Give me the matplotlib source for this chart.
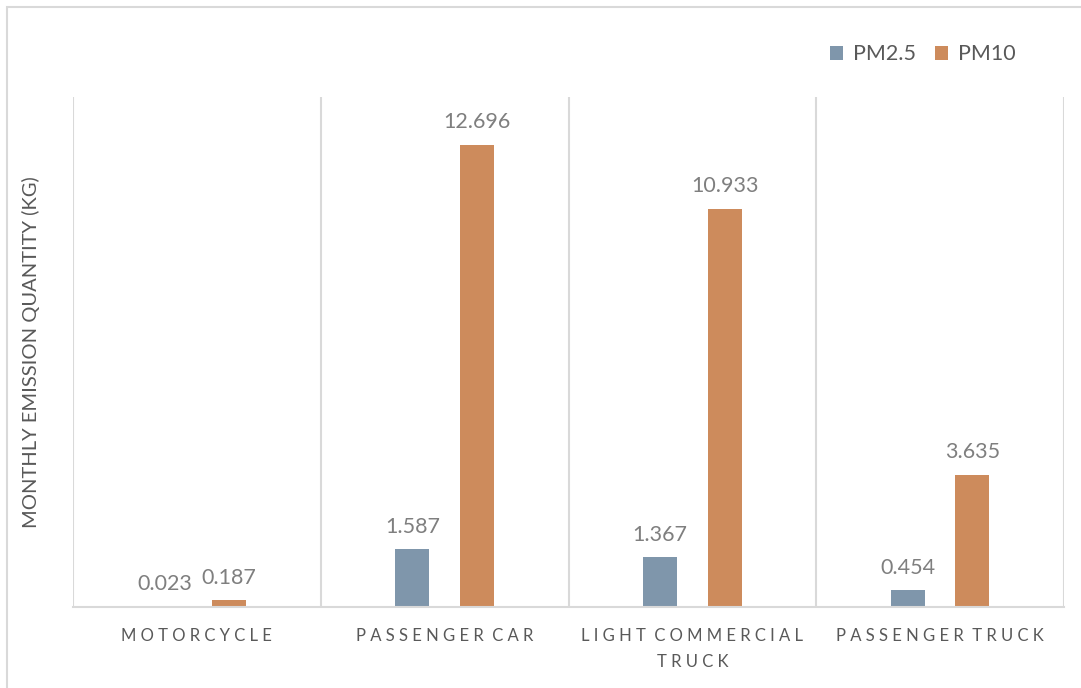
import numpy as np
import matplotlib.pyplot as plt
from matplotlib.patches import Rectangle

categories = ['Motorcycle', 'Passenger car', 'Light commercial\ntruck', 'Passenger truck']
pm25 = [0.023, 1.587, 1.367, 0.454]
pm10 = [0.187, 12.696, 10.933, 3.635]

c_pm25 = '#7f96ab'
c_pm10 = '#cd8b5c'
txt = '#595959'
grid = '#d9d9d9'

plt.rcParams['font.family'] = ['Lato', 'DejaVu Sans']


def spaced(s):
    # imitate the wide letter spacing of the category labels
    lines = []
    for line in s.upper().split('\n'):
        lines.append('  '.join(' '.join(w) for w in line.split(' ')))
    return '\n'.join(lines)


fig = plt.figure(figsize=(10.81, 6.88), dpi=100)
ax = fig.add_axes([73 / 1081, 81 / 688, 991 / 1081, 510 / 688])

x = np.arange(len(categories))
w = 0.137
off = 0.13
b1 = ax.bar(x - off, pm25, w, color=c_pm25, label='PM2.5')
b2 = ax.bar(x + off, pm10, w, color=c_pm10, label='PM10')

for bars, vals in ((b1, pm25), (b2, pm10)):
    for r, v in zip(bars, vals):
        ax.annotate(f'{v:.3f}', (r.get_x() + r.get_width() / 2, r.get_height()),
                    xytext=(0, 9), textcoords='offset points', ha='center',
                    va='bottom', fontsize=15.5, color='#7f7f7f')

ax.set_xlim(-0.5, len(categories) - 0.5)
ax.set_ylim(0, 14)
for b in np.arange(len(categories) + 1) - 0.5:
    ax.axvline(b, color=grid, lw=1.5, zorder=0)

for s in ['top', 'right', 'left']:
    ax.spines[s].set_visible(False)
ax.spines['bottom'].set_color(grid)
ax.spines['bottom'].set_linewidth(1.5)

ax.set_yticks([])
ax.set_xticks(x)
ax.set_xticklabels([spaced(c) for c in categories], fontsize=12, color=txt,
                   linespacing=1.8)
ax.tick_params(axis='x', length=0, pad=15)

ax.set_ylabel('MONTHLY EMISSION QUANTITY (KG)', fontsize=14.5, color=txt, labelpad=24)

fig.legend(loc='upper right', bbox_to_anchor=(1035 / 1081, 1 - 25 / 688), ncol=2,
           frameon=False, fontsize=15.5, labelcolor=txt, handlelength=0.6,
           handleheight=0.6, handletextpad=0.45, columnspacing=0.9)

fig.patches.append(Rectangle((7 / 1081, -0.1), 1.2, 1 - 7 / 688 + 0.1,
                             transform=fig.transFigure, fill=False,
                             edgecolor=grid, lw=1.5))

plt.savefig('out.png')
